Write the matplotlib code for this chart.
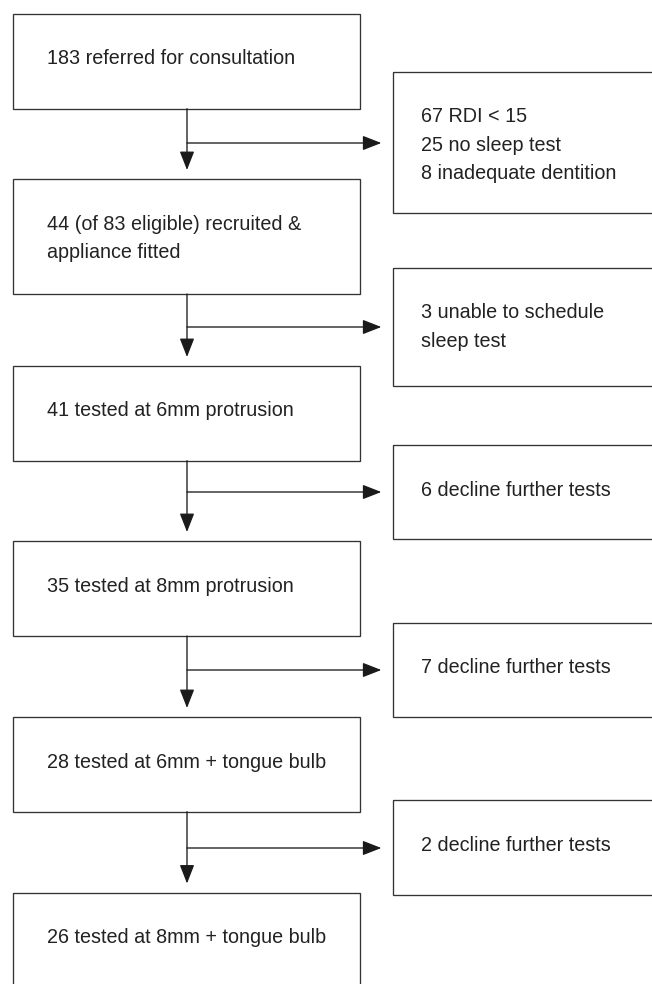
import matplotlib.pyplot as plt
from matplotlib.patches import Rectangle

# flowchart content
main_steps = [
    ["183 referred for consultation"],
    ["44 (of 83 eligible) recruited &", "appliance fitted"],
    ["41 tested at 6mm protrusion"],
    ["35 tested at 8mm protrusion"],
    ["28 tested at 6mm + tongue bulb"],
    ["26 tested at 8mm + tongue bulb"],
]
exclusions = [
    ["67 RDI < 15", "25 no sleep test", "8 inadequate dentition"],
    ["3 unable to schedule", "sleep test"],
    ["6 decline further tests"],
    ["7 decline further tests"],
    ["2 decline further tests"],
]

# layout (pixels, y downwards)
main_top = [14, 179, 366, 541, 717, 892.5]
main_bot = [108.7, 294, 460.7, 636, 811.7, 995]
side_top = [71.7, 267.7, 445, 622.7, 800.3]
side_bot = [213, 386, 539.3, 717.3, 895]
branch_y = [143, 327, 492, 670, 848]

W, H = 652, 984
LEFT_X0, LEFT_X1 = 13.3, 360
RIGHT_X0, RIGHT_X1 = 393.3, 700
STEM_X = 187
LINE_C = "#333333"
LW = 0.95
TEXT_OFF = 50.5
LINE_GAP = 28.4
FONT = ["Liberation Sans Narrow", "Liberation Sans", "DejaVu Sans"]

fig = plt.figure(figsize=(W / 100, H / 100), dpi=100)
ax = fig.add_axes([0, 0, 1, 1])
ax.set_xlim(0, W)
ax.set_ylim(H, 0)
ax.axis("off")


def box(x0, x1, y0, y1, lines, tx):
    ax.add_patch(Rectangle((x0, y0), x1 - x0, y1 - y0, fill=False,
                           edgecolor=LINE_C, linewidth=LW))
    for i, s in enumerate(lines):
        ax.text(tx, y0 + TEXT_OFF + i * LINE_GAP, s, fontsize=14.2,
                family=FONT, color="#222222", va="baseline", ha="left")


for lines, t, b in zip(main_steps, main_top, main_bot):
    box(LEFT_X0, LEFT_X1, t, b, lines, 47)

for lines, t, b in zip(exclusions, side_top, side_bot):
    box(RIGHT_X0, RIGHT_X1, t, b, lines, 421)

arrow = dict(arrowstyle="-|>,head_length=1.15,head_width=0.45",
             color="#1a1a1a", lw=LW, shrinkA=0, shrinkB=0,
             mutation_scale=10)

for i, yb in enumerate(branch_y):
    # down to the next step
    ax.annotate("", xy=(STEM_X, main_top[i + 1] - 9), xytext=(STEM_X, main_bot[i]),
                arrowprops=arrow)
    # side branch to the exclusion box
    ax.annotate("", xy=(RIGHT_X0 - 12, yb), xytext=(STEM_X, yb),
                arrowprops=arrow)

fig.savefig("out.png", dpi=100)
